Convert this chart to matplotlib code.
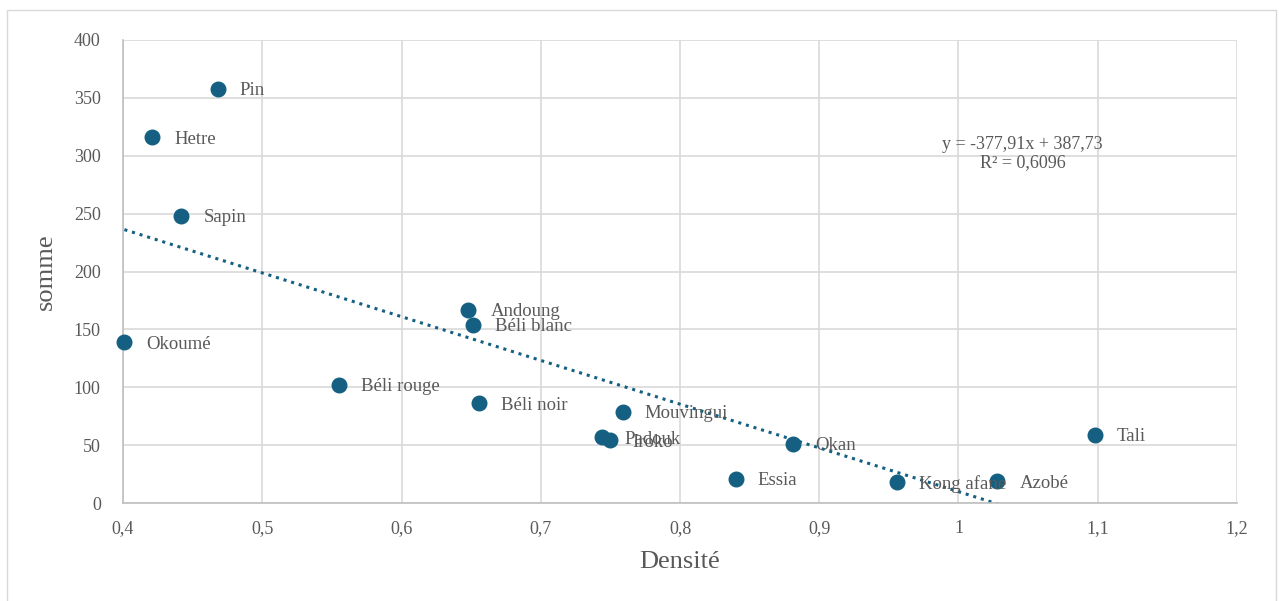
import matplotlib.pyplot as plt
import matplotlib.patches as patches
import numpy as np

plt.rcParams['font.family'] = ['Liberation Serif', 'DejaVu Serif']

# wood species, density and sum
names = ["Okoumé", "Hetre", "Sapin", "Pin", "Béli rouge", "Andoung", "Béli blanc",
         "Béli noir", "Mouvingui", "Padouk", "Iroko", "Essia", "Okan",
         "Kong afane", "Azobé", "Tali"]
densite = [0.401, 0.421, 0.442, 0.468, 0.555, 0.648, 0.651,
           0.656, 0.759, 0.744, 0.750, 0.840, 0.881,
           0.956, 1.028, 1.098]
somme = [139, 316, 248, 358, 102, 167, 154,
         86, 79, 57, 54, 21, 51,
         18, 19, 59]

# trendline given by the chart
slope = -377.91
intercept = 387.73

blue = '#156082'
grey = '#595959'
gridc = '#D9D9D9'

fig = plt.figure(figsize=(12.79, 6.01), dpi=100)
fig.patches.append(patches.Rectangle((7 / 1279, -0.01), 1269 / 1279, 1 - 10 / 601 + 0.01,
                                     transform=fig.transFigure, fill=False,
                                     edgecolor=gridc, linewidth=1))

ax = fig.add_axes([123 / 1279, 98 / 601, 1114 / 1279, 463 / 601])
ax.set_xlim(0.4, 1.2)
ax.set_ylim(0, 400)
ax.set_xticks(np.arange(0.4, 1.21, 0.1))
ax.set_xticklabels(["0,4", "0,5", "0,6", "0,7", "0,8", "0,9", "1", "1,1", "1,2"])
ax.set_yticks(range(0, 401, 50))
ax.grid(True, color=gridc, linewidth=1.2)
ax.set_axisbelow(True)
for s in ax.spines.values():
    s.set_visible(False)
ax.spines['left'].set_visible(True)
ax.spines['bottom'].set_visible(True)
ax.spines['left'].set_color('#BFBFBF')
ax.spines['bottom'].set_color('#BFBFBF')
ax.spines['left'].set_linewidth(1.2)
ax.spines['bottom'].set_linewidth(1.2)
ax.tick_params(length=0, labelsize=13, colors=grey)
ax.tick_params(axis='y', pad=16)
ax.tick_params(axis='x', pad=12)

xs = np.linspace(min(densite), max(densite), 200)
ax.plot(xs, slope * xs + intercept, linestyle=(0, (1, 1.6)), color=blue,
        linewidth=2.2, clip_on=True)

ax.scatter(densite, somme, s=110, color=blue, zorder=3, clip_on=False)
for n, x, y in zip(names, densite, somme):
    ax.annotate(n, (x, y), xytext=(22, -2), textcoords='offset pixels',
                va='center', ha='left', fontsize=13.5, color=grey)

ax.text(1.046, 302, "y = -377,91x + 387,73\nR² = 0,6096", ha='center', va='center',
        fontsize=13, color=grey, linespacing=1.1)

ax.set_xlabel("Densité", fontsize=19, color=grey, labelpad=10)
ax.set_ylabel("somme", fontsize=19, color=grey, labelpad=12)

fig.savefig("out.png", dpi=100)
